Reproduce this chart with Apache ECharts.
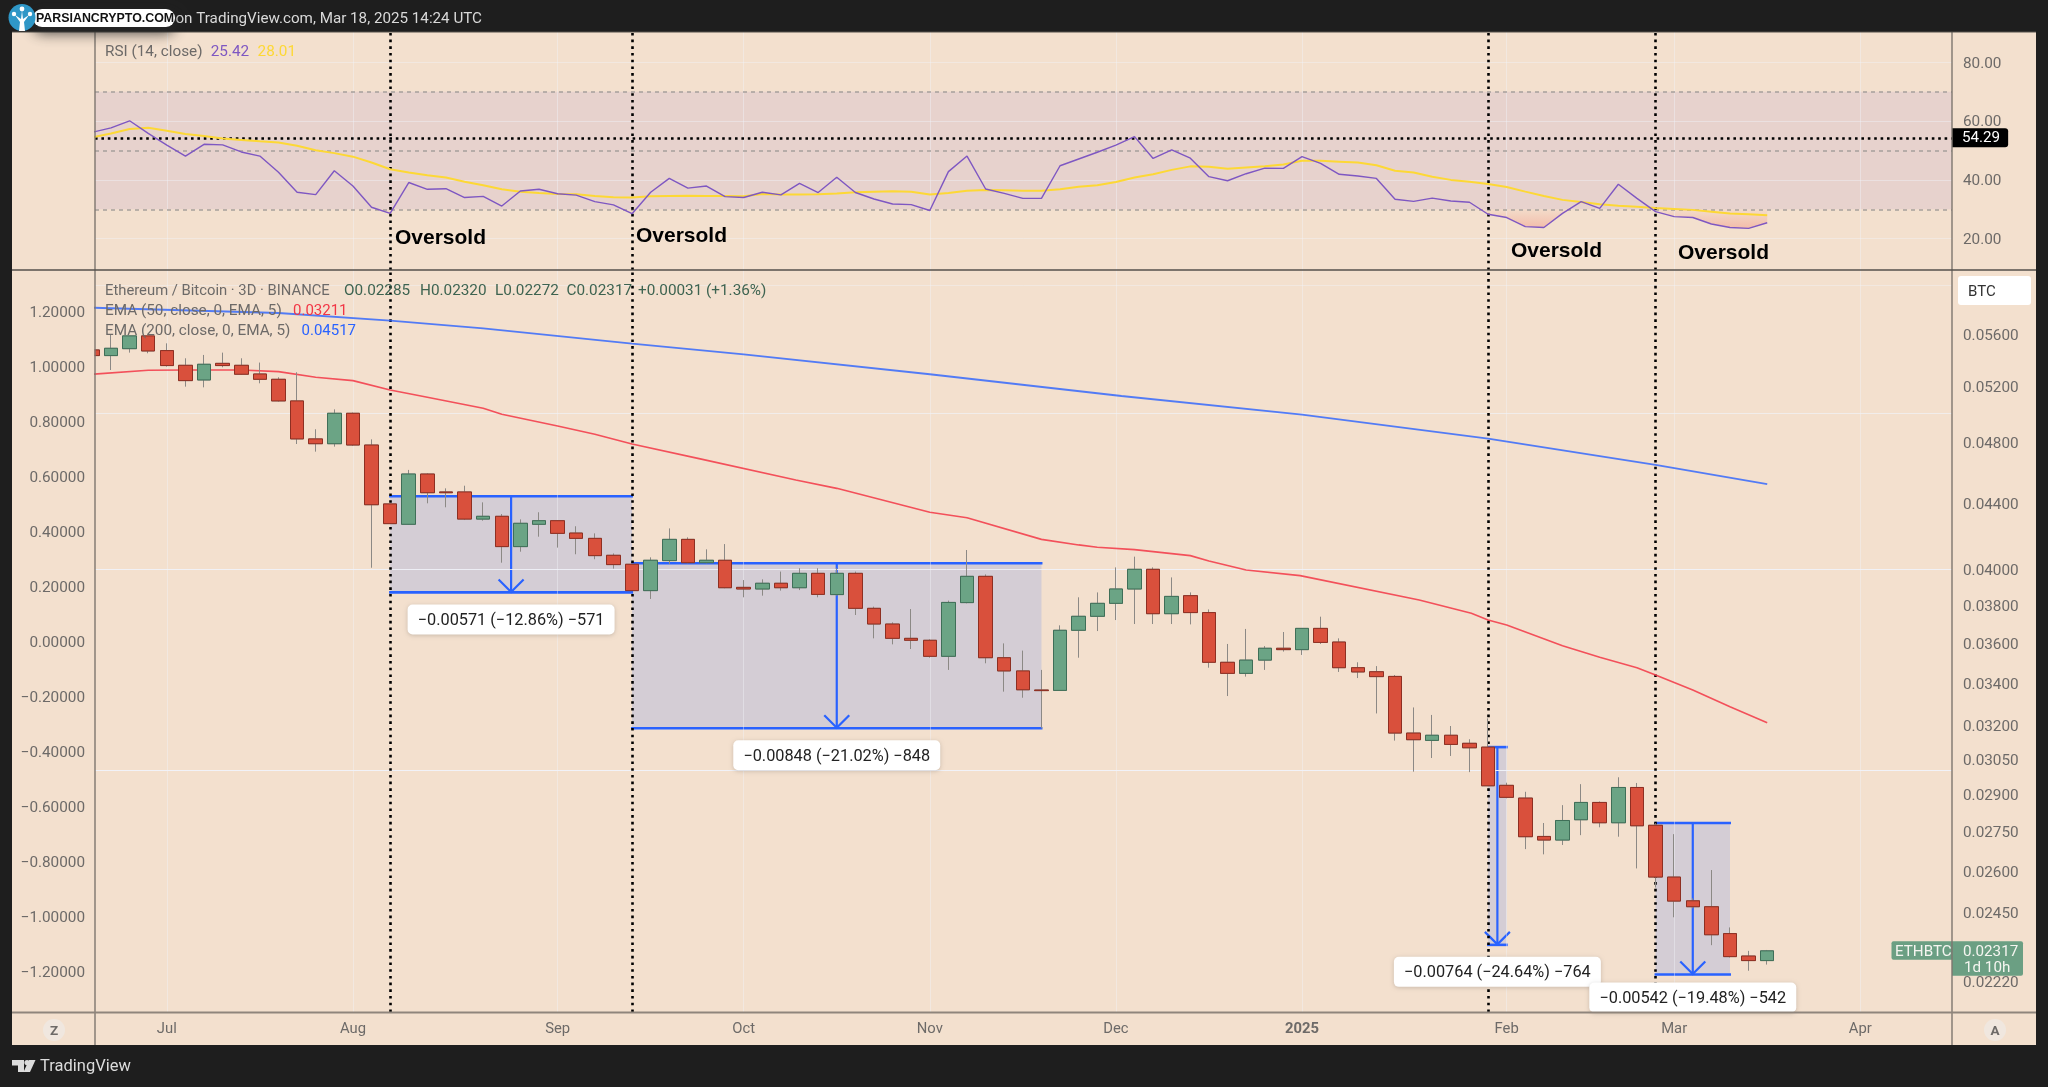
<!DOCTYPE html>
<html><head><meta charset="utf-8">
<style>html,body{margin:0;padding:0;background:#1e1e1e}#c{width:2048px;height:1087px}</style>
<script src="https://cdn.jsdelivr.net/npm/echarts@6/dist/echarts.min.js"></script>
</head><body><div id="c"></div>
<script>
const opens=[.05473,.05429,.05483,.05584,.05468,.05354,.05243,.05369,.05354,.05288,.05248,.05088,.04819,.04786,.04999,.04777,.04391,.04265,.04583,.04467,.04467,.04297,.04314,.04131,.04265,.04287,.04212,.04180,.04080,.04028,.03879,.04049,.04174,.04037,.04051,.03897,.03888,.03920,.03895,.03976,.03857,.03976,.03782,.03698,.03623,.03613,.03531,.03813,.03959,.03524,.03458,.03365,.03363,.03665,.03739,.03809,.03888,.03999,.03753,.03851,.03759,.03501,.03446,.03512,.03572,.03565,.03675,.03604,.03474,.03454,.03431,.03164,.03131,.03154,.03118,.03101,.02936,.02883,.02729,.02715,.02795,.02865,.02783,.02927,.02773,.02575,.02489,.02468,.02375,.02300,.02285];
const closes=[.05429,.05486,.05584,.05465,.05352,.05238,.05362,.05352,.05286,.05248,.05088,.04819,.04786,.04999,.04777,.04386,.04269,.04583,.04462,.04462,.04297,.04314,.04131,.04271,.04287,.04210,.04180,.04078,.04026,.03879,.04051,.04174,.04037,.04051,.03895,.03888,.03920,.03895,.03976,.03858,.03976,.03782,.03698,.03623,.03613,.03531,.03814,.03959,.03524,.03458,.03366,.03362,.03665,.03739,.03809,.03888,.03999,.03753,.03847,.03759,.03501,.03446,.03512,.03572,.03565,.03675,.03602,.03474,.03453,.03430,.03164,.03134,.03154,.03113,.03098,.02934,.02886,.02728,.02715,.02792,.02865,.02783,.02927,.02771,.02575,.02488,.02468,.02371,.02298,.02285,.02317];
const lows=[.05429,.05318,.05452,.05447,.05344,.05193,.05188,.05339,.05281,.05218,.05083,.04784,.04732,.04766,.04771,.04008,.04269,.04261,.04395,.04370,.04291,.04287,.04037,.04101,.04190,.04125,.04086,.04057,.04003,.03879,.03833,.04030,.04033,.04033,.03892,.03842,.03851,.03879,.03882,.03842,.03851,.03746,.03623,.03592,.03568,.03524,.03463,.03809,.03496,.03357,.03328,.03185,.03362,.03524,.03661,.03719,.03698,.03698,.03698,.03696,.03474,.03336,.03430,.03463,.03555,.03538,.03594,.03453,.03423,.03254,.03130,.02994,.03053,.03062,.02992,.02934,.02882,.02680,.02660,.02696,.02734,.02765,.02728,.02607,.02537,.02431,.02462,.02336,.02295,.02252,.02272];
const highs=[.05473,.05592,.05584,.05584,.05525,.05408,.05434,.05452,.05408,.05375,.05263,.05301,.04886,.05027,.05004,.04816,.04391,.04610,.04588,.04490,.04507,.04401,.04328,.04295,.04339,.04291,.04253,.04210,.04091,.04033,.04068,.04240,.04186,.04115,.04146,.03938,.03942,.03986,.04005,.04005,.04005,.03986,.03791,.03707,.03778,.03618,.03824,.04111,.03970,.03597,.03560,.03463,.03691,.03842,.03869,.04010,.04072,.04010,.03953,.03869,.03776,.03594,.03672,.03583,.03656,.03675,.03737,.03623,.03501,.03482,.03438,.03282,.03247,.03196,.03136,.03231,.02947,.02909,.02782,.02854,.02941,.02869,.02970,.02946,.02781,.02738,.02498,.02601,.02396,.02317,.02320];
const rsiValues=[56.2,57.7,60.1,55.8,51.8,48.1,52.1,51.9,49.5,48.1,42.6,35.8,35.0,43.1,37.9,30.7,28.6,39.1,36.8,37.0,34.0,34.4,31.1,36.2,36.8,35.3,34.8,32.6,31.5,28.5,35.8,40.5,37.2,37.9,34.3,34.0,35.8,34.9,38.8,35.7,40.9,35.7,33.5,31.8,31.6,29.6,42.8,48.1,36.9,35.4,33.7,33.7,44.8,47.1,49.4,51.8,54.7,47.3,50.2,47.4,41.1,39.7,42.1,44.0,43.9,47.9,45.6,41.9,41.3,40.5,33.4,32.7,33.8,32.8,32.4,28.3,27.2,24.1,23.8,28.6,32.6,30.3,38.5,33.7,29.2,27.5,27.2,25.0,23.8,23.5,25.42];
const rsiMaValues=[54.5,55.8,57.3,57.7,56.7,55.6,54.9,54.1,53.6,53.1,52.7,51.6,50.1,49.1,47.9,45.9,43.6,42.5,41.6,40.8,39.4,38.2,36.8,36.0,35.5,35.2,35.1,34.5,34.1,34.0,34.4,34.5,34.6,34.5,34.5,34.4,35.2,35.0,35.0,35.1,35.4,35.8,36.0,36.1,36.0,35.0,35.5,36.3,36.6,36.5,36.3,36.3,36.8,37.7,38.2,39.3,40.8,41.9,43.4,44.6,44.5,43.8,44.2,44.6,45.2,46.5,46.5,46.2,45.9,45.0,43.1,42.5,41.1,40.0,39.4,38.6,37.6,36.0,34.5,33.2,32.5,31.7,31.2,30.9,30.4,30.1,29.8,29.2,28.6,28.3,28.01];
const ema50Bars=[0,3,5,8,10,12,14,16,18,21,22,25,27,29,32.6,37.8,40,45,47,51,53,54,56,59,60,62,64.9,71.3,74.1,75,76,79,81,83,84,86,88,90];
const ema50Values=[.05286,.05316,.05318,.05318,.05306,.05263,.05238,.05168,.05115,.05035,.04992,.04909,.04851,.04784,.04685,.04544,.04490,.04339,.04305,.04174,.04141,.04127,.04113,.04078,.04047,.03995,.03963,.03827,.03755,.03719,.03693,.03585,.03526,.03474,.03438,.03365,.03285,.03211];
const ema200Bars=[0,10,16,21,29,35,45,55.3,65,75,84,90];
const ema200Values=[.05814,.05770,.05707,.05645,.05522,.05439,.05286,.05124,.04989,.04821,.04643,.04517];
const monthBars=[4,14,25,35,45,55,65,76,85,95];
const monthLabels=['Jul','Aug','Sep','Oct','Nov','Dec','2025','Feb','Mar','Apr'];
const priceTicks=[.056,.052,.048,.044,.040,.038,.036,.034,.032,.0305,.029,.0275,.026,.0245,.0222];
const leftTicks=[1.2,1,.8,.6,.4,.2,0,-.2,-.4,-.6,-.8,-1,-1.2];
const rsiTicks=[80,60,40,20];
const rsiBands=[70,50,30];
const rsiCursor=54.29;
const oversoldBars=[16,29,75,84];
const lastClose=.02317;
const measureStart=[16,29,75,84];
const measureEnd=[29,51,76,88];
const measureTop=[.04440,.04034,.03101,.02782];
const measureBottom=[.03869,.03186,.02337,.02240];
const measureText=['\u22120.00571 (\u221212.86%) \u2212571','\u22120.00848 (\u221221.02%) \u2212848','\u22120.00764 (\u221224.64%) \u2212764','\u22120.00542 (\u221219.48%) \u2212542'];
const measureGap=[12,12,12,8];

const FONT='Roboto',GREY='#6d6a68',GRID='rgba(240,243,250,.42)',BLUE='#2962ff';
const xRange={min:0.14,max:99.93};
const none={show:false};
const ohlc=closes.map((c,i)=>[i,opens[i],c,lows[i],highs[i]]);
const bodies=closes.map((c,i)=>[i,opens[i],c,Math.min(opens[i],c),Math.max(opens[i],c)]);
const rsiData=rsiValues.map((v,i)=>[i,v]);
const rsiMaData=rsiMaValues.map((v,i)=>[i,v]);
const ema50=ema50Values.map((v,i)=>[ema50Bars[i],v]);
const ema200=ema200Values.map((v,i)=>[ema200Bars[i],v]);
const measures=measureStart.map((s,i)=>[s,measureEnd[i],measureTop[i],measureBottom[i]]);
const axisText={fontFamily:FONT,fontSize:15.3,color:GREY};
const nudged=pad=>({a:{fontFamily:FONT,fontSize:15.3,color:GREY,padding:[pad,0,0,0]}});

function guides(xi,yi,z,markLine,markArea){
  return {type:'line',xAxisIndex:xi,yAxisIndex:yi,data:[],z,silent:true,symbol:'none',markLine:markLine?Object.assign({silent:true,symbol:'none',animation:false,label:none},markLine):undefined,markArea:markArea?Object.assign({silent:true,animation:false},markArea):undefined};
}
const vGrid=monthBars.map(x=>({xAxis:x}));
const vDots=oversoldBars.map(x=>({xAxis:x}));
const dotStyle={color:'#000',width:2.6,type:[2.6,4.1],opacity:1};

function renderMeasure(p,api){
  const s=api.value(0),e=api.value(1),t=api.value(2),b=api.value(3);
  const tl=api.coord([s,t]),br=api.coord([e,b]);
  const mx=(tl[0]+br[0])/2;
  const line=(a,c,d,f,w)=>({type:'line',shape:{x1:a,y1:c,x2:d,y2:f},style:{stroke:BLUE,lineWidth:w}});
  return {type:'group',children:[
    {type:'rect',shape:{x:tl[0],y:tl[1],width:br[0]-tl[0],height:br[1]-tl[1]},style:{fill:'rgba(41,98,255,.15)'}},
    line(tl[0]-1,tl[1],br[0]+1,tl[1],2.6),line(tl[0]-1,br[1],br[0]+1,br[1],2.6),line(mx,tl[1],mx,br[1],2.2),
    {type:'polyline',shape:{points:[[mx-12.5,br[1]-13],[mx,br[1]-0.5],[mx+12.5,br[1]-13]]},style:{stroke:BLUE,lineWidth:2.2,fill:null}}
  ]};
}
function renderMeasureLabel(p,api){
  const s=api.value(0),e=api.value(1),b=api.value(3);
  const br=api.coord([e,b]),l=api.coord([s,b]);
  const mx=(l[0]+br[0])/2,y=br[1]+measureGap[p.dataIndex];
  return {type:'group',children:[
    {type:'rect',shape:{x:mx-103.5,y,width:207,height:30,r:5},style:{fill:'#fff',shadowBlur:4,shadowColor:'rgba(0,0,0,.18)',shadowOffsetY:1}},
    {type:'text',style:{x:mx,y:y+16.3,text:measureText[p.dataIndex],fill:'#222',font:'16.3px '+FONT,align:'center',verticalAlign:'middle'}}
  ]};
}
function renderOversold(p,api){
  const level=30,children=[];
  const y0=api.coord([0,level])[1],y1=api.coord([0,22])[1];
  const fill=new echarts.graphic.LinearGradient(0,y0,0,y1,[{offset:0,color:'rgba(242,90,70,.03)'},{offset:1,color:'rgba(242,90,70,.32)'}],true);
  let pts=null;
  rsiValues.forEach((v,i)=>{
    const prev=rsiValues[i-1];
    if(i>0&&(prev-level)*(v-level)<0){
      const xc=i-1+(prev-level)/(prev-v);
      if(v<level){pts=[api.coord([xc,level])];}
      else if(pts){pts.push(api.coord([xc,level]));children.push({type:'polygon',shape:{points:pts},style:{fill}});pts=null;}
    }
    if(v<level&&pts)pts.push(api.coord([i,v]));
  });
  if(pts){pts.push(api.coord([rsiValues.length-1,level]));children.push({type:'polygon',shape:{points:pts},style:{fill}});}
  return {type:'group',children};
}
function renderTag(p,api){
  const y=api.coord([0,lastClose])[1];
  const t=(text,x,yy)=>({type:'text',style:{x,y:yy,text,fill:'#f5f5f0',font:'15.2px '+FONT,align:'left',verticalAlign:'middle'}});
  return {type:'group',children:[
    {type:'rect',shape:{x:1891.5,y:y-9.5,width:60.5,height:18.5,r:[2,0,0,2]},style:{fill:'#6b9f83'}},
    {type:'rect',shape:{x:1952,y:y-9.5,width:71,height:34.5,r:[0,2,2,0]},style:{fill:'#6b9f83'}},
    t('ETHBTC',1895,y+1),t('0.02317',1963,y+1),t('1d 10h',1964,y+17)
  ]};
}
const txt=(text,x,y,fill,o,z)=>({type:'text',z:z||100,style:Object.assign({text,x,y:y+1.3,fill,font:'15.3px '+FONT,verticalAlign:'middle'},o||{})});
const line=(x1,y1,x2,y2,stroke,lw)=>({type:'line',z:90,shape:{x1,y1,x2,y2},style:{stroke,lineWidth:lw}});
const boldFont='bold 21px "Liberation Sans"';

const option={
  animation:false,backgroundColor:'#1e1e1e',
  grid:[{left:95,right:96,top:32,height:238},{left:95,right:96,top:270,height:742}],
  xAxis:[
    Object.assign({type:'value',gridIndex:0,axisLine:none,axisTick:none,axisLabel:none,splitLine:none},xRange),
    Object.assign({type:'value',gridIndex:1,axisLine:none,axisTick:none,splitLine:none,
      axisLabel:Object.assign({},axisText,{customValues:monthBars,margin:10,fontSize:14.8,
        formatter:v=>{const s=monthLabels[monthBars.indexOf(v)];return s==='2025'?'{b|'+s+'}':s;},
        rich:{b:{fontWeight:'bold',fontFamily:FONT,fontSize:14.8,color:GREY}}})},xRange)
  ],
  yAxis:[
    {type:'value',gridIndex:0,position:'right',min:9.35,max:90.3,axisLine:none,axisTick:none,splitLine:none,
      axisLabel:Object.assign({},axisText,{customValues:rsiTicks,margin:11,rich:nudged(3),formatter:v=>'{a|'+v.toFixed(2)+'}'})},
    {type:'log',gridIndex:1,position:'right',min:.02123,max:.06136,axisLine:none,axisTick:none,splitLine:none,
      axisLabel:Object.assign({},axisText,{customValues:priceTicks,margin:11,rich:nudged(5),formatter:v=>'{a|'+v.toFixed(5)+'}'})},
    {type:'value',gridIndex:1,position:'left',min:-1.349,max:1.349,axisLine:none,axisTick:none,splitLine:none,
      axisLabel:Object.assign({},axisText,{customValues:leftTicks,margin:10,rich:nudged(5),formatter:v=>'{a|'+v.toFixed(5).replace('-','\u2212')+'}'})}
  ],
  series:[
    guides(0,0,1,null,{itemStyle:{color:'rgba(126,87,194,.1)'},data:[[{yAxis:30},{yAxis:70}]]}),
    guides(0,0,2,{lineStyle:{color:GRID,width:1,type:'solid'},data:vGrid.concat(rsiTicks.map(v=>({yAxis:v})))}),
    guides(0,0,3,{lineStyle:{color:'#a6a09c',width:1.5,type:[4,4]},data:rsiBands.map(v=>({yAxis:v}))}),
    {type:'custom',xAxisIndex:0,yAxisIndex:0,z:4,silent:true,data:[[0,30]],renderItem:renderOversold,clip:false},
    guides(0,0,5,{lineStyle:dotStyle,data:vDots}),
    {type:'line',name:'RSI MA',xAxisIndex:0,yAxisIndex:0,z:6,silent:true,data:rsiMaData,showSymbol:false,lineStyle:{color:'#fdd835',width:2}},
    {type:'line',name:'RSI',xAxisIndex:0,yAxisIndex:0,z:7,silent:true,data:rsiData,showSymbol:false,lineStyle:{color:'#7e57c2',width:1.4}},
    {type:'line',xAxisIndex:0,yAxisIndex:0,z:8,data:[],symbol:'none',silent:true,markLine:{silent:true,symbol:'none',animation:false,lineStyle:{color:'#000',width:2.6,type:[2.6,3.8]},
      label:{show:true,position:'end',distance:0,formatter:'54.29',color:'#fff',backgroundColor:'#000',fontFamily:FONT,fontSize:15.2,padding:[3,8,1,10],borderRadius:[0,3,3,0]},data:[{yAxis:rsiCursor}]}},

    guides(1,1,2,{lineStyle:{color:GRID,width:1,type:'solid'},data:vGrid.concat(priceTicks.map(v=>({yAxis:v})))}),
    {type:'custom',name:'Measure',xAxisIndex:1,yAxisIndex:1,z:3,silent:true,data:measures,encode:{x:[0,1],y:[2,3]},renderItem:renderMeasure,clip:false},
    guides(1,1,4,{lineStyle:dotStyle,data:vDots}),
    guides(1,1,4,{lineStyle:{color:'rgba(120,115,110,.55)',width:1,type:[1.5,1.5]},data:[{yAxis:lastClose}]}),
    {type:'line',name:'EMA 50',xAxisIndex:1,yAxisIndex:1,z:5,silent:true,data:ema50,showSymbol:false,lineStyle:{color:'#f23645',width:1.6,opacity:.85}},
    {type:'line',name:'EMA 200',xAxisIndex:1,yAxisIndex:1,z:5,silent:true,data:ema200,showSymbol:false,lineStyle:{color:BLUE,width:1.8,opacity:.8}},
    {type:'candlestick',name:'Wicks',xAxisIndex:1,yAxisIndex:1,z:6,silent:true,barWidth:14,data:ohlc,
      itemStyle:{color:'#6ba485',color0:'#d9503c',borderColor:'#8c8985',borderColor0:'#8c8985',borderWidth:1}},
    {type:'candlestick',name:'ETHBTC',xAxisIndex:1,yAxisIndex:1,z:7,silent:true,barWidth:14,data:bodies,
      itemStyle:{color:'#6ba485',color0:'#d9503c',borderColor:'#3f6f58',borderColor0:'#8e2f22',borderColorDoji:'#8e2f22',borderWidth:1}},
    {type:'custom',xAxisIndex:1,yAxisIndex:1,z:9,silent:true,data:measures,encode:{x:[0,1],y:[2,3]},renderItem:renderMeasureLabel,clip:false},
    {type:'custom',xAxisIndex:1,yAxisIndex:1,z:9,silent:true,data:[[0,lastClose]],renderItem:renderTag,clip:false}
  ],
  graphic:{elements:[
    {type:'rect',z:-10,shape:{x:12,y:32,width:2024,height:1013},style:{fill:'#f3e0ce'}},
    {type:'rect',z:8,shape:{x:78,y:345,width:16.5,height:12},style:{fill:'#f3e0ce'}},
    line(95,32,95,1045,'#7d766f',1.4),line(1952,32,1952,1045,'#7d766f',1.4),
    line(12,270,2036,270,'#55504b',1.4),line(12,1012.5,2036,1012.5,'#8f857c',2),
    line(12,32,2036,32,'#55504b',1),
    txt('Published on TradingView.com, Mar 18, 2025 14:24 UTC',482,18,'#d9d9d9',{align:'right',font:'15.2px '+FONT}),
    {type:'rect',z:101,shape:{x:33,y:9,width:142,height:18,r:9},style:{fill:'#fff',shadowBlur:14,shadowColor:'rgba(40,40,40,.85)',shadowOffsetY:6}},
    txt('PARSIANCRYPTO.COM',36,17,'#111',{font:'bold 12.4px "Liberation Sans"'},104),
    {type:'circle',z:102,shape:{cx:22,cy:17.5,r:13.5},style:{fill:'#2f97c7'}},
    {type:'polygon',z:103,shape:{points:[[19,31],[25,31],[24,22],[29,15],[23,19],[22,11],[21,19],[15,15],[20,22]]},style:{fill:'#fff'}},
    {type:'circle',z:103,shape:{cx:22,cy:9,r:2.4},style:{fill:'#fff'}},
    {type:'circle',z:103,shape:{cx:14,cy:14,r:2.2},style:{fill:'#fff'}},
    {type:'circle',z:103,shape:{cx:30,cy:14,r:2.2},style:{fill:'#fff'}},

    txt('RSI (14, close)',105,50.7,GREY),txt('25.42',210.7,50.7,'#7e57c2'),txt('28.01',257.6,50.7,'#fdd835'),
    txt('Ethereum / Bitcoin \u00b7 3D \u00b7 BINANCE',105,290,GREY,{font:'14.8px '+FONT}),
    txt('O0.02285',344,290,'#3d6350'),txt('H0.02320',420,290,'#3d6350'),txt('L0.02272',495,290,'#3d6350'),txt('C0.02317',566.5,290,'#3d6350'),txt('+0.00031 (+1.36%)',638,290,'#3d6350'),
    txt('EMA (50, close, 0, EMA, 5)',105,310,GREY),txt('0.03211',293,310,'#f23645',{font:'15px '+FONT}),
    txt('EMA (200, close, 0, EMA, 5)',105,330,GREY),txt('0.04517',301.5,330,BLUE,{font:'15px '+FONT}),

    txt('Oversold',395,236.5,'#000',{font:boldFont}),txt('Oversold',636,235,'#000',{font:boldFont}),
    txt('Oversold',1511,250,'#000',{font:boldFont}),txt('Oversold',1678,252,'#000',{font:boldFont}),

    {type:'rect',z:100,shape:{x:1958,y:276,width:73,height:29,r:3},style:{fill:'#fff'}},
    txt('BTC',1968,290.5,'#333',{font:'15px '+FONT}),

    {type:'circle',z:95,shape:{cx:54,cy:1030,r:11},style:{fill:'#f0e7df'}},
    txt('Z',54,1030,GREY,{align:'center',font:'bold 13.5px '+FONT}),
    {type:'circle',z:95,shape:{cx:1995,cy:1030,r:11},style:{fill:'#f0e7df'}},
    txt('A',1995,1030,GREY,{align:'center',font:'bold 13.5px '+FONT}),

    {type:'polygon',z:100,shape:{points:[[12,1060],[24,1060],[24,1072],[18,1072],[18,1065.5],[12,1065.5]]},style:{fill:'#dcdcdc'}},
    {type:'circle',z:100,shape:{cx:27,cy:1062.6,r:2.6},style:{fill:'#dcdcdc'}},
    {type:'polygon',z:100,shape:{points:[[29,1060],[35.5,1060],[30,1072],[23.5,1072]]},style:{fill:'#dcdcdc'}},
    txt('TradingView',40,1066,'#dcdcdc',{font:'16.5px '+FONT})
  ]}
};
echarts.init(document.getElementById('c'),null,{renderer:'canvas'}).setOption(option);
</script></body></html>
